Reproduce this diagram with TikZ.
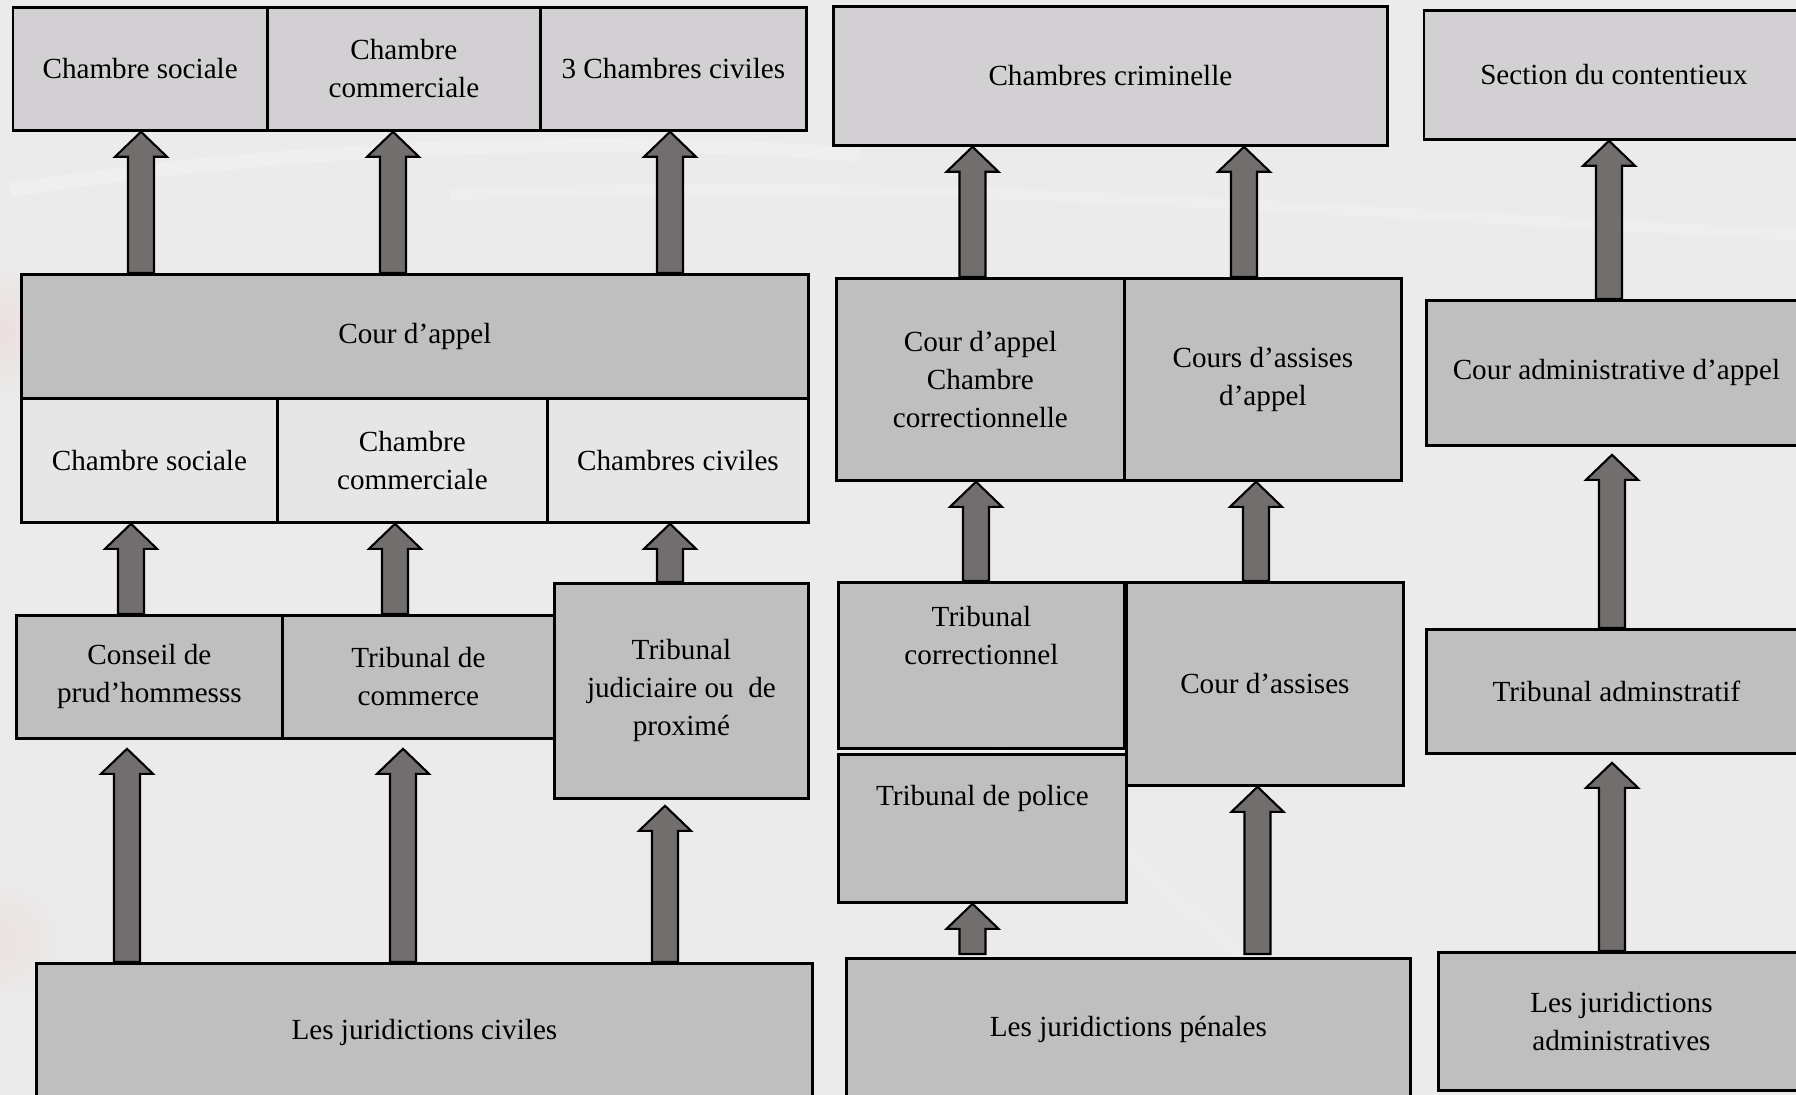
\documentclass[tikz,border=0pt]{standalone}
\usepackage{fontspec}
\setmainfont{Liberation Serif}
\usepackage{tikz}
\usetikzlibrary{calc,positioning}

\definecolor{bggrey}{HTML}{EBEBEB}
\definecolor{toplevel}{HTML}{D2D0D2}
\definecolor{midlevel}{HTML}{BFBFBF}
\definecolor{sublevel}{HTML}{E6E6E6}
\definecolor{arrowgrey}{HTML}{736E6E}

% block arrow: x position, lower anchor, upper anchor
\newcommand{\appealarrow}[3]{%
  \filldraw[arrowbody] let \p1=(#2), \p2=(#3), \p3=(#1,0) in
    (\x3-0.13cm,\y1) -- (\x3-0.13cm,\y2-0.25cm) -- (\x3-0.26cm,\y2-0.25cm) -- (\x3,\y2)
    -- (\x3+0.26cm,\y2-0.25cm) -- (\x3+0.13cm,\y2-0.25cm) -- (\x3+0.13cm,\y1) -- cycle;}

\begin{document}
\begin{tikzpicture}[x=1cm,y=-1cm,
  every node/.style={align=center,font=\fontsize{8.3}{10.8}\selectfont},
  court/.style={draw,line width=0.8pt,anchor=north west,inner sep=0pt},
  supreme/.style={court,fill=toplevel},
  appeal/.style={court,fill=midlevel},
  chamber/.style={court,fill=sublevel},
  first/.style={court,fill=midlevel},
  arrowbody/.style={fill=arrowgrey,draw=black,line width=0.6pt}]

    \useasboundingbox (0,0) rectangle (17.96,10.95);
    \clip (0,0) rectangle (17.96,10.95);
    \fill[bggrey] (0,0) rectangle (17.96,10.95);
    \shade[inner color=red!5!bggrey,outer color=bggrey] (0,3.3) circle (0.7);
    \shade[inner color=red!4!bggrey,outer color=bggrey] (0,9.4) circle (0.7);
    \draw[white,opacity=0.2,line width=4pt] (0.1,1.9) .. controls (3,1.45) and (6,1.35) .. (8.6,1.55);
    \draw[white,opacity=0.18,line width=3pt] (4.5,1.95) .. controls (9,1.75) and (13,2.1) .. (17.96,2.35);
    \draw[white,opacity=0.15,line width=3pt] (12.5,9.6) .. controls (11.5,8.8) and (10.5,7.8) .. (9.8,7.4);

    % civil courts
    \node[supreme,minimum width=2.545cm,minimum height=1.23cm] (socC) at (0.115,0.06) {Chambre sociale};
    \node[supreme,minimum width=2.73cm,minimum height=1.23cm] (comC) at (2.66,0.06) {Chambre\\commerciale};
    \node[supreme,minimum width=2.66cm,minimum height=1.23cm] (civC) at (5.39,0.06) {3 Chambres civiles};

    \node[appeal,minimum width=7.87cm,minimum height=1.24cm] (appel) at (0.20,2.73) {Cour d’appel};
    \node[chamber,minimum width=2.56cm,minimum height=1.24cm] (socA) at (0.20,3.97) {Chambre sociale};
    \node[chamber,minimum width=2.70cm,minimum height=1.24cm] (comA) at (2.76,3.97) {Chambre\\commerciale};
    \node[chamber,minimum width=2.61cm,minimum height=1.24cm] (civA) at (5.46,3.97) {Chambres civiles};

    \node[first,minimum width=2.66cm,minimum height=1.23cm] (prud) at (0.15,6.14) {Conseil de\\prud’hommesss};
    \node[first,minimum width=2.72cm,minimum height=1.23cm] (tcom) at (2.81,6.14) {Tribunal de\\commerce};
    \node[first,minimum width=2.54cm,minimum height=2.15cm] (tjud) at (5.53,5.82) {Tribunal\\judiciaire ou~~de\\proximé};

    \node[first,minimum width=7.76cm,minimum height=1.38cm] (jciv) at (0.35,9.62) {Les juridictions civiles};

    % penal courts
    \node[supreme,minimum width=5.54cm,minimum height=1.39cm] (crim) at (8.32,0.05) {Chambres criminelle};
    \node[appeal,minimum width=2.88cm,minimum height=2.02cm] (appcorr) at (8.35,2.77) {Cour d’appel\\Chambre\\correctionnelle};
    \node[appeal,minimum width=2.77cm,minimum height=2.02cm] (assapp) at (11.23,2.77) {Cours d’assises\\d’appel};

    \node[first,minimum width=2.86cm,minimum height=1.66cm] (tcorr) at (8.37,5.81) {};
    \node at ([yshift=-0.55cm]tcorr.north) {Tribunal\\correctionnel};
    \node[first,minimum width=2.88cm,minimum height=1.48cm] (tpol) at (8.37,7.53) {};
    \node at ([yshift=-0.45cm]tpol.north) {Tribunal de police};
    \node[first,minimum width=2.77cm,minimum height=2.03cm] (assises) at (11.25,5.81) {Cour d’assises};

    \node[first,minimum width=5.64cm,minimum height=1.42cm] (jpen) at (8.45,9.57) {Les juridictions pénales};

    % administrative courts
    \node[supreme,minimum width=3.80cm,minimum height=1.29cm] (cont) at (14.225,0.09) {Section du contentieux};
    \node[appeal,minimum width=3.80cm,minimum height=1.45cm] (cadm) at (14.25,2.99) {Cour administrative d’appel};
    \node[first,minimum width=3.80cm,minimum height=1.24cm] (tadm) at (14.25,6.28) {Tribunal adminstratif};
    \node[first,minimum width=3.66cm,minimum height=1.38cm] (jadm) at (14.37,9.51) {Les juridictions\\administratives};

    % arrows
    \appealarrow{1.41}{appel.north}{socC.south}
    \appealarrow{3.93}{appel.north}{comC.south}
    \appealarrow{6.70}{appel.north}{civC.south}
    \appealarrow{1.31}{prud.north}{socA.south}
    \appealarrow{3.95}{tcom.north}{comA.south}
    \appealarrow{6.70}{tjud.north}{civA.south}
    \appealarrow{1.27}{jciv.north}{[yshift=-0.09cm]prud.south}
    \appealarrow{4.03}{jciv.north}{[yshift=-0.09cm]tcom.south}
    \appealarrow{6.65}{jciv.north}{[yshift=-0.06cm]tjud.south}

    \appealarrow{9.725}{appcorr.north}{crim.south}
    \appealarrow{12.44}{assapp.north}{crim.south}
    \appealarrow{9.76}{tcorr.north}{appcorr.south}
    \appealarrow{12.56}{assises.north}{assapp.south}
    \appealarrow{9.725}{[yshift=0.03cm]jpen.north}{tpol.south}
    \appealarrow{12.575}{[yshift=0.03cm]jpen.north}{assises.south}

    \appealarrow{16.09}{cadm.north}{cont.south}
    \appealarrow{16.12}{tadm.north}{[yshift=-0.08cm]cadm.south}
    \appealarrow{16.12}{jadm.north}{[yshift=-0.08cm]tadm.south}
\end{tikzpicture}
\end{document}
